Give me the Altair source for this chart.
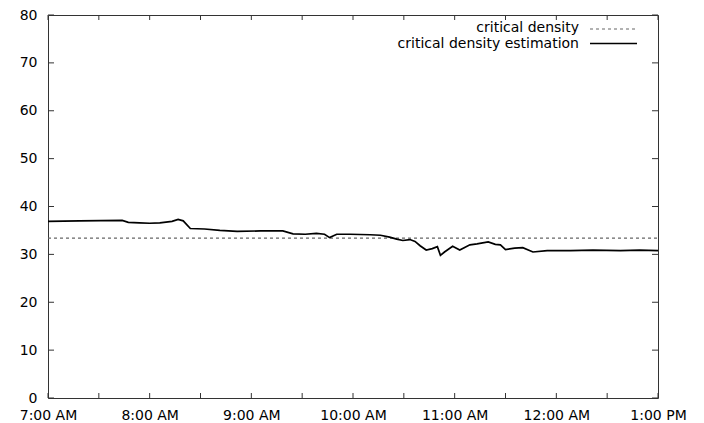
import altair as alt
import pandas as pd

# ---- data ----
est_hour = [7.00, 7.31, 7.73, 7.79, 7.90, 8.00, 8.10, 8.22, 8.28, 8.33, 8.40, 8.54, 8.69,
            8.86, 9.09, 9.31, 9.41, 9.53, 9.64, 9.72, 9.77, 9.84, 9.97, 10.17, 10.27,
            10.36, 10.43, 10.49, 10.56, 10.61, 10.66, 10.72, 10.78, 10.83, 10.86, 10.90,
            10.98, 11.05, 11.15, 11.22, 11.33, 11.40, 11.45, 11.50, 11.59, 11.67, 11.77,
            11.91, 12.14, 12.36, 12.63, 12.82, 13.00]
est_value = [36.9, 37.0, 37.1, 36.7, 36.6, 36.5, 36.6, 36.9, 37.3, 37.0, 35.4, 35.3, 35.0,
             34.8, 34.9, 34.9, 34.3, 34.2, 34.4, 34.2, 33.5, 34.2, 34.2, 34.1, 34.0,
             33.6, 33.2, 32.9, 33.1, 32.7, 31.8, 30.9, 31.2, 31.6, 29.8, 30.5,
             31.7, 30.9, 32.0, 32.2, 32.6, 32.1, 32.0, 31.0, 31.3, 31.4, 30.5,
             30.8, 30.8, 30.9, 30.8, 30.9, 30.8]
critical_hour = [7.0, 13.0]
critical_value = [33.4, 33.4]

x_tick_values = [7, 8, 9, 10, 11, 12, 13]
x_tick_labels = ["7:00 AM", "8:00 AM", "9:00 AM", "10:00 AM", "11:00 AM", "12:00 AM", "1:00 PM"]
x_minor_ticks = [7 + 0.5 * i for i in range(13)]
y_tick_values = [0, 10, 20, 30, 40, 50, 60, 70, 80]
legend_labels = ["critical density", "critical density estimation"]

W, H = 610, 383
FONT = "DejaVu Sans"
FS = 14

est_df = pd.DataFrame({"hour": est_hour, "value": est_value})
crit_df = pd.DataFrame({"hour": critical_hour, "value": critical_value})
xt_df = pd.DataFrame({"hour": x_minor_ticks})
yt_df = pd.DataFrame({"value": y_tick_values})

label_expr = "[" + ",".join("'%s'" % s for s in x_tick_labels) + "][datum.value - 7]"

xscale = alt.Scale(domain=[7, 13], nice=False, zero=False)
yscale = alt.Scale(domain=[0, 80], nice=False)

x_axis = alt.Axis(values=x_tick_values, labelExpr=label_expr, ticks=False, domain=False,
                  grid=False, title=None, labelFontSize=FS, labelFont=FONT,
                  labelColor="black", labelPadding=10, labelFlush=False)
y_axis = alt.Axis(values=y_tick_values, ticks=False, domain=False, grid=False, title=None,
                  labelFontSize=FS, labelFont=FONT, labelColor="black", labelPadding=11)

crit = alt.Chart(crit_df).mark_line(color="#666666", strokeWidth=1.2, strokeDash=[3, 3]).encode(
    x=alt.X("hour:Q", scale=xscale, axis=x_axis),
    y=alt.Y("value:Q", scale=yscale, axis=y_axis),
)

est = alt.Chart(est_df).mark_line(color="black", strokeWidth=1.7).encode(
    x=alt.X("hour:Q", scale=xscale),
    y=alt.Y("value:Q", scale=yscale),
)

TL = 5
xt_bottom = alt.Chart(xt_df).mark_rule(color="#333333", strokeWidth=1).encode(
    x=alt.X("hour:Q", scale=xscale), y=alt.value(H), y2=alt.value(H - TL))
xt_top = alt.Chart(xt_df).mark_rule(color="#333333", strokeWidth=1).encode(
    x=alt.X("hour:Q", scale=xscale), y=alt.value(0), y2=alt.value(TL))
yt_left = alt.Chart(yt_df).mark_rule(color="#333333", strokeWidth=1).encode(
    y=alt.Y("value:Q", scale=yscale), x=alt.value(0), x2=alt.value(TL + 1))
yt_right = alt.Chart(yt_df).mark_rule(color="#333333", strokeWidth=1).encode(
    y=alt.Y("value:Q", scale=yscale), x=alt.value(W), x2=alt.value(W - TL - 1))

leg_text1 = alt.Chart(pd.DataFrame({"t": [legend_labels[0]]})).mark_text(
    align="right", baseline="middle", fontSize=FS, font=FONT, color="black").encode(
    text="t:N", x=alt.value(531), y=alt.value(13))
leg_text2 = alt.Chart(pd.DataFrame({"t": [legend_labels[1]]})).mark_text(
    align="right", baseline="middle", fontSize=FS, font=FONT, color="black").encode(
    text="t:N", x=alt.value(531), y=alt.value(29))
leg_line1 = alt.Chart(pd.DataFrame({"t": [legend_labels[0]]})).mark_rule(
    color="#666666", strokeWidth=1.2, strokeDash=[3, 3]).encode(
    x=alt.value(542), x2=alt.value(589), y=alt.value(14))
leg_line2 = alt.Chart(pd.DataFrame({"t": [legend_labels[1]]})).mark_rule(
    color="black", strokeWidth=1.7).encode(
    x=alt.value(542), x2=alt.value(589), y=alt.value(28.5))

chart = alt.layer(
    crit, est, xt_bottom, xt_top, yt_left, yt_right,
    leg_text1, leg_text2, leg_line1, leg_line2,
).properties(
    width=W, height=H,
    autosize=alt.AutoSizeParams(type="none"),
    padding={"left": 40, "top": 7, "right": 36, "bottom": 23},
    background="white",
).configure_view(
    stroke="#333333", strokeWidth=1
)

chart.save("out.html", embed_options={"renderer": "svg", "actions": False})
